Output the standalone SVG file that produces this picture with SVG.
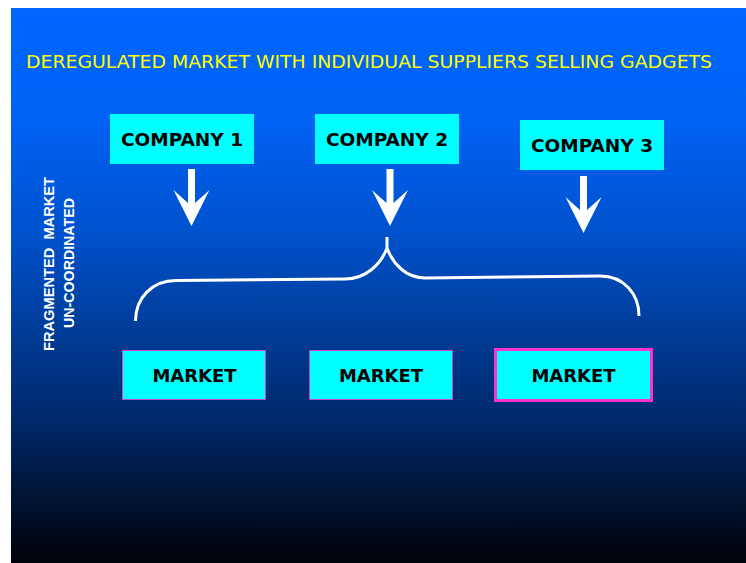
<svg xmlns="http://www.w3.org/2000/svg" xmlns:xlink="http://www.w3.org/1999/xlink" width="746" height="563" viewBox="0 0 746 563">
  <defs>
    <linearGradient id="bg" x1="0" y1="0" x2="0" y2="1">
      <stop offset="0" stop-color="#0066FF"/>
      <stop offset="0.2" stop-color="#0062F4"/>
      <stop offset="0.4" stop-color="#0052CE"/>
      <stop offset="0.6" stop-color="#003A92"/>
      <stop offset="0.75" stop-color="#002868"/>
      <stop offset="0.87" stop-color="#001538"/>
      <stop offset="1" stop-color="#000208"/>
    </linearGradient>
    <path id="arrow" d="M-3.5,0 L3.5,0 L3.5,34 L18,21 L0,57 L-18,21 L-3.5,34 Z" fill="#FFFFFF"/>
    <style>
      .box { fill: #00FFFF; }
      .mkt { fill: #00FFFF; stroke: #CC44CC; stroke-width: 1; }
      .mkt3 { fill: #00FFFF; stroke: #FF33CC; stroke-width: 3; }
      .lbl { font-family: "DejaVu Sans", Verdana, sans-serif; font-weight: bold; fill: #000000; text-anchor: middle; }
      .side { font-family: "Liberation Sans", Arial, sans-serif; font-weight: bold; fill: #FFFFFF; text-anchor: middle; font-size: 15px; }
      .title { font-family: "DejaVu Sans Condensed", "DejaVu Sans", sans-serif; fill: #FFFF00; font-size: 17px; }
      .brace { fill: none; stroke: #FFFFFF; stroke-width: 3; stroke-linecap: butt; stroke-linejoin: round; }
    </style>
  </defs>

  <rect x="0" y="0" width="746" height="563" fill="#FFFFFF"/>
  <rect x="11" y="8" width="735" height="555" fill="url(#bg)"/>

  <text class="title" x="26" y="67.7" textLength="686" lengthAdjust="spacingAndGlyphs">DEREGULATED MARKET WITH INDIVIDUAL SUPPLIERS SELLING GADGETS</text>

  <g id="side-label">
    <text class="side" transform="translate(54,264) rotate(-90)" textLength="174" lengthAdjust="spacingAndGlyphs">FRAGMENTED&#160; MARKET</text>
    <text class="side" transform="translate(74,263) rotate(-90)" textLength="130" lengthAdjust="spacingAndGlyphs">UN-COORDINATED</text>
  </g>

  <g id="company1">
    <rect class="box" x="110" y="114" width="144" height="50"/>
    <text class="lbl" x="182" y="145.7" font-size="18.5">COMPANY 1</text>
  </g>
  <g id="company2">
    <rect class="box" x="315" y="114" width="144" height="50"/>
    <text class="lbl" x="387" y="146" font-size="18.5">COMPANY 2</text>
  </g>
  <g id="company3">
    <rect class="box" x="520" y="120" width="144" height="50"/>
    <text class="lbl" x="592" y="152.3" font-size="18.5">COMPANY 3</text>
  </g>

  <g id="market1">
    <rect class="mkt" x="122.5" y="350.5" width="143" height="49"/>
    <text class="lbl" x="194.5" y="381.7" font-size="18">MARKET</text>
  </g>
  <g id="market2">
    <rect class="mkt" x="309.5" y="350.5" width="143" height="49"/>
    <text class="lbl" x="381" y="381.7" font-size="18">MARKET</text>
  </g>
  <g id="market3">
    <rect class="mkt3" x="495.5" y="349.5" width="156" height="51"/>
    <text class="lbl" x="573.5" y="381.7" font-size="18">MARKET</text>
  </g>

  <g id="connectors">
    <use xlink:href="#arrow" transform="translate(191.5,169)"/>
    <use xlink:href="#arrow" transform="translate(390,169)"/>
    <use xlink:href="#arrow" transform="translate(583.5,176)"/>
    <path class="brace" d="M135.5,321 C135.5,298 152,280.5 176,280.5 L345,279 C366,279 381,264 387,248 L387,237 M387,248 C393,264 406,278 425,278 L600,276 C624,276 639,294 639,316"/>
  </g>
</svg>
